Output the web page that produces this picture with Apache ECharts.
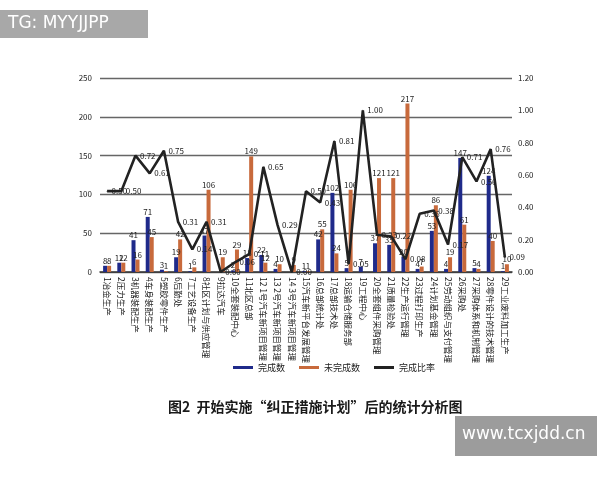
<!DOCTYPE html>
<html>
<head>
<meta charset="utf-8">
<script src="https://cdn.jsdelivr.net/npm/echarts@6/dist/echarts.min.js"></script>
<style>
html,body{margin:0;padding:0;background:#fff;}
#c{width:600px;height:480px;}
</style>
</head>
<body>
<div id="c"></div>
<script>
const categories = ['1冶金生产','2压力生产','3机器装配生产','4车身装配生产','5塑胶零件生产','6后勤处','7工艺设备生产','8社区计划与供应管理','9拉达汽车','10全套装配中心','11北区总部','12 1号汽车新项目管理','13 2号汽车新项目管理','14 3号汽车新项目管理','15汽车新平台发展管理','16总部统计处','17总部技术处','18运输仓储服务部','19工程中心','20全套组件采购管理','21质量检验处','22生产运行管理','23过程打印生产','24计划基金管理','25劳动组织与支付管理','26采购处','27采购体系和机制管理','28零件设计的技术管理','29工业废料加工生产'];
const doneCount = [8,12,41,71,3,19,1,47,0,2,18,22,4,0,1,42,102,5,7,37,35,20,4,53,4,147,5,124,1];
const undoneCount = [8,12,16,45,1,42,6,106,19,29,149,12,10,9,1,55,24,106,0,121,121,217,7,86,19,61,4,40,10];
const doneRatio = [0.50,0.50,0.72,0.61,0.75,0.31,0.14,0.31,0.00,0.06,0.11,0.65,0.29,0.00,0.50,0.43,0.81,0.05,1.00,0.23,0.22,0.08,0.36,0.38,0.17,0.71,0.56,0.76,0.09];
const leftTicks = {min:0, max:250, interval:50};
const rightTicks = {min:0, max:1.2, interval:0.2};

const chart = echarts.init(document.getElementById('c'));
const font = '"Noto Sans CJK SC", "Noto Sans", sans-serif';
const barLabel = {show:true, position:'top', fontSize:8, color:'#222', distance:1, fontFamily:font,
  formatter: p => p.value === 0 ? '' : p.value};
chart.setOption({
  backgroundColor:'#fff',
  textStyle:{fontFamily:font},
  title:{
    text:'图2  开始实施“纠正措施计划”后的统计分析图',
    left:163, top:395,
    textStyle:{fontSize:14, fontWeight:'bold', color:'#1a1a1a', fontFamily:font}
  },
  legend:{
    top:358, left:228,
    itemWidth:20, itemHeight:3, itemGap:14, icon:'rect',
    textStyle:{fontSize:9, color:'#222'},
    data:['完成数','未完成数','完成比率']
  },
  grid:{left:100, right:88, top:78, bottom:208, containLabel:false},
  xAxis:{
    type:'category', data:categories,
    axisLine:{lineStyle:{color:'#333', width:1.5}},
    axisTick:{show:false},
    axisLabel:{interval:0, rotate:-90, fontSize:8.5, color:'#222', margin:5}
  },
  yAxis:[
    {type:'value', min:leftTicks.min, max:leftTicks.max, interval:leftTicks.interval,
     axisLine:{show:false}, axisTick:{show:false},
     axisLabel:{fontSize:8, color:'#222', margin:8},
     splitLine:{lineStyle:{color:'#666', width:1.3}}},
    {type:'value', min:rightTicks.min, max:rightTicks.max, interval:rightTicks.interval,
     axisLine:{show:false}, axisTick:{show:false},
     axisLabel:{fontSize:8, color:'#222', margin:6, formatter:v => v.toFixed(2)},
     splitLine:{show:false}}
  ],
  series:[
    {name:'完成数', type:'bar', data:doneCount, barWidth:4, barGap:'0%',
     itemStyle:{color:'#1f2a8a'}, label:barLabel},
    {name:'未完成数', type:'bar', data:undoneCount, barWidth:4,
     itemStyle:{color:'#c86a3c'}, label:barLabel},
    {name:'完成比率', type:'line', yAxisIndex:1, data:doneRatio,
     symbol:'circle', symbolSize:1, showSymbol:true,
     lineStyle:{color:'#222', width:2.6}, itemStyle:{color:'#222'},
     label:{show:true, position:'right', fontSize:8, color:'#222', distance:4,
       formatter:p => Number(p.value).toFixed(2)},
     labelLayout:{hideOverlap:false}}
  ],
  graphic:[
    {type:'rect', left:0, top:10, shape:{width:148, height:28}, style:{fill:'#a8a8a8'}},
    {type:'text', left:8, top:15, style:{text:'TG: MYYJJPP', fill:'#fff', fontSize:17, fontFamily:'"DejaVu Sans", sans-serif'}},
    {type:'rect', left:455, top:416, shape:{width:142, height:40}, style:{fill:'#9c9c9c'}},
    {type:'text', left:462, top:426, style:{text:'www.tcxjdd.cn', fill:'#fff', fontSize:17, fontFamily:'"DejaVu Sans", sans-serif'}}
  ]
});
</script>
</body>
</html>
